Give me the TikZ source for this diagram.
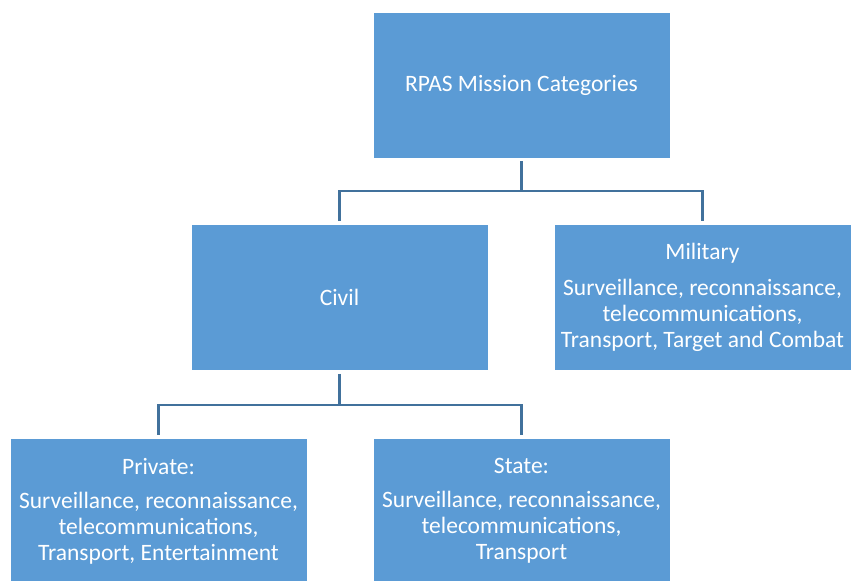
\documentclass[tikz,border=0pt]{standalone}
\usepackage{fontspec}
\setmainfont{Carlito}
\usetikzlibrary{positioning}
\definecolor{boxblue}{HTML}{5B9BD5}
\definecolor{linkblue}{HTML}{41719C}

\begin{document}
\begin{tikzpicture}[x=1bp,y=-1bp]
    \tikzset{catbox/.style = {shape=rectangle, fill=boxblue, draw=white, line width=0.8bp, minimum width=297bp, minimum height=146bp, inner sep=0pt, text=white, align=center, font=\fontsize{23.5bp}{26bp}\selectfont}}
    \tikzset{link/.style = {-, draw=linkblue, line width=2.5bp, shorten <=3bp, shorten >=3bp}}

    \useasboundingbox (0,0) rectangle (851,581);
    \clip (0,0) rectangle (851,581);

    \node[catbox] (R) at (521.5, 85) {RPAS Mission Categories};
    \node[catbox] (C) at (339.5, 297.5) {Civil};
    \node[catbox] (M) at (702.5, 297.5) {Military\\[10bp] Surveillance, reconnaissance,\\ telecommunications,\\ Transport, Target and Combat};
    \node[catbox] (P) at (158.5, 511) {Private:\\[8bp] Surveillance, reconnaissance,\\ telecommunications,\\ Transport, Entertainment};
    \node[catbox] (S) at (521.5, 511) {State:\\[8bp] Surveillance, reconnaissance,\\ telecommunications,\\ Transport};

    \coordinate (J1) at (521.5, 191);
    \coordinate (J2) at (339.5, 405);

    \draw[link, shorten >=0pt] (R.south) -- (J1);
    \draw[link] (C.north) |- (J1) -| (M.north);
    \draw[link, shorten >=0pt] (C.south) -- (J2);
    \draw[link] (P.north) |- (J2) -| (S.north);
\end{tikzpicture}
\end{document}
